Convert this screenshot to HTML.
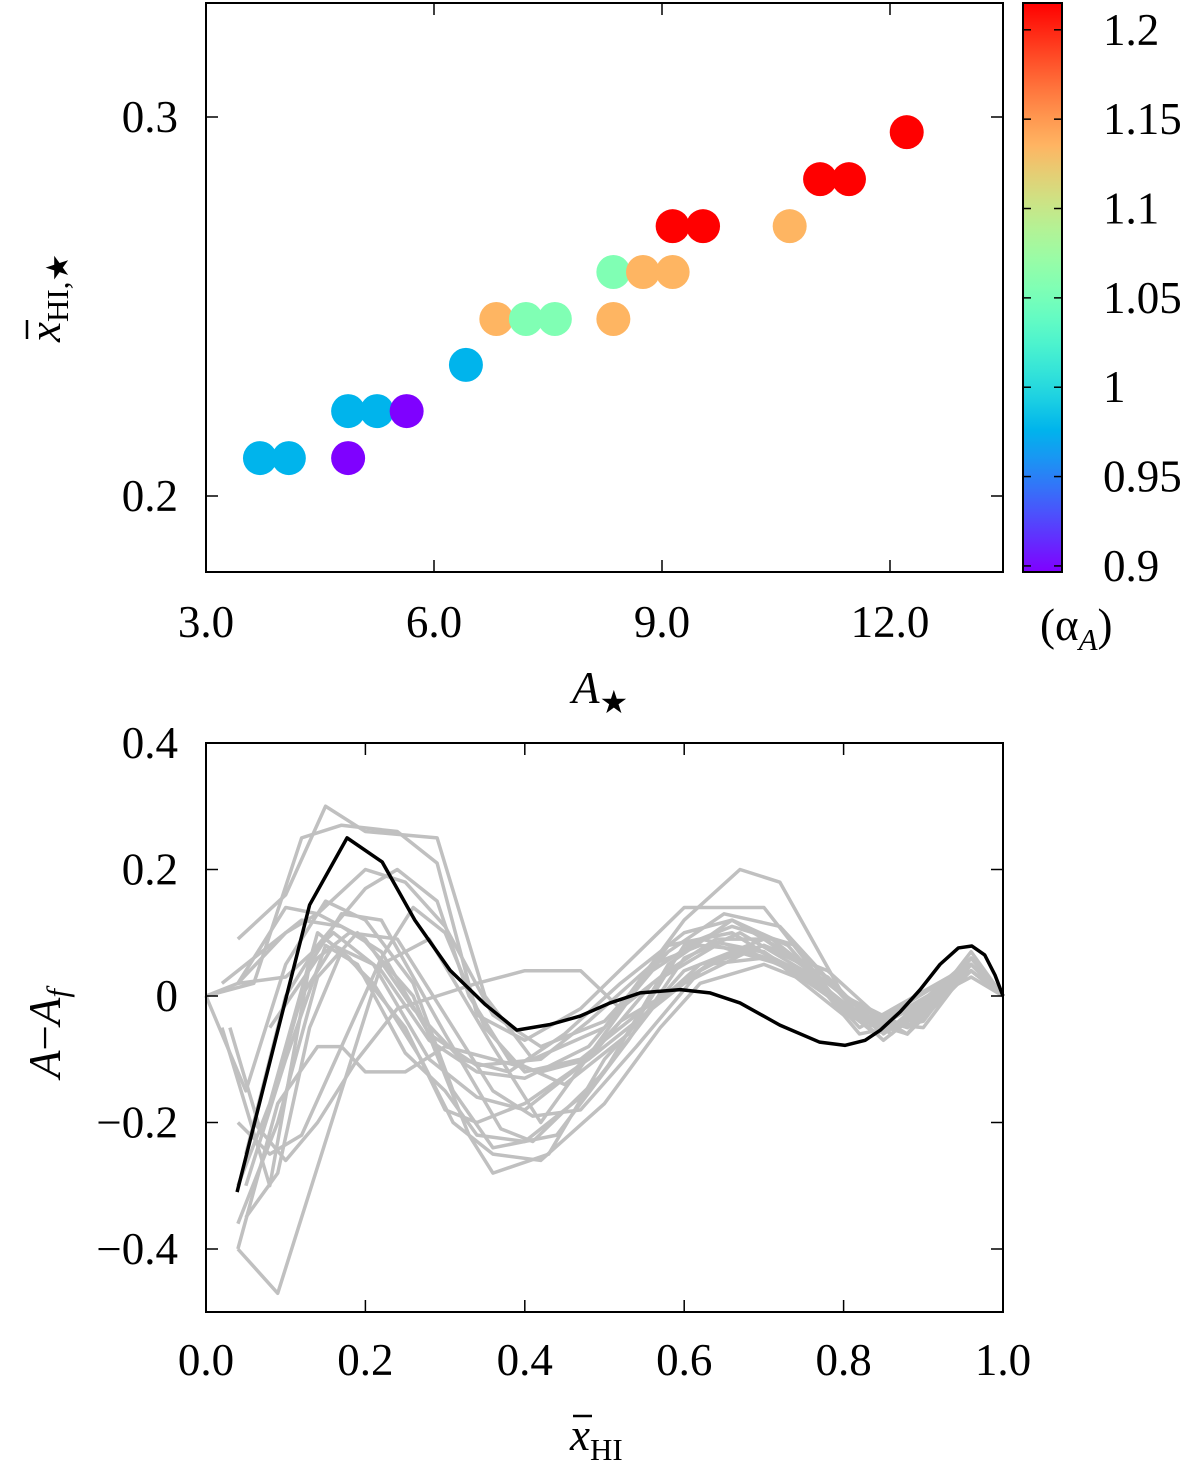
<!DOCTYPE html>
<html><head><meta charset="utf-8">
<style>
html,body{margin:0;padding:0;background:#fff;}
svg{display:block;font-family:"Liberation Serif",serif;}
text{font-size:45px;fill:#000;}
</style></head>
<body>
<svg id="fig" width="1200" height="1474" viewBox="0 0 1200 1474">
<defs><linearGradient id="cbg" x1="0" y1="1" x2="0" y2="0"></linearGradient></defs>
<g id="topPanel"></g>
<g id="botPanel"></g>
<text x="572" y="703" font-style="italic">A<tspan font-style="normal" font-size="32" dy="10">★</tspan></text>
<g transform="translate(60,342) rotate(-90)">
<text x="0" y="0"><tspan font-style="italic">x</tspan><tspan font-size="31" dy="8">HI,★</tspan></text>
<line x1="3" x2="22" y1="-33" y2="-33" stroke="#000" stroke-width="2.5"/>
</g>
<text x="1040" y="640">(α<tspan font-style="italic" font-size="31" dy="10">A</tspan><tspan dy="-10">)</tspan></text>
<g>
<text x="570" y="1450"><tspan font-style="italic">x</tspan><tspan font-size="31" dy="10">HI</tspan></text>
<line x1="573" x2="592" y1="1416" y2="1416" stroke="#000" stroke-width="2.5"/>
</g>
<text transform="translate(60,1078) rotate(-90)"><tspan font-style="italic">A</tspan>−<tspan font-style="italic">A</tspan><tspan font-style="italic" font-size="31" dy="8">f</tspan></text>
</svg>
<script>
// ---- top scatter data ----
const scatterX = [3.71,4.09,4.87, 4.87,5.25,5.64, 6.42, 6.82,7.21,7.59,8.36, 8.36,8.75,9.14, 9.14,9.54,10.68, 11.08,11.46, 12.22];
const scatterY = [0.21,0.21,0.21, 0.2224,0.2224,0.2224, 0.2346, 0.2467,0.2467,0.2467,0.2467, 0.2591,0.2591,0.2591, 0.2712,0.2712,0.2712, 0.2836,0.2836, 0.296];
const scatterAlpha = [0.976,0.976,0.897, 0.976,0.976,0.897, 0.976, 1.135,1.056,1.056,1.135, 1.056,1.135,1.135, 1.215,1.215,1.135, 1.215,1.215, 1.215];
const topXTicks = [3,6,9,12];
const topXTickLabels = ["3.0","6.0","9.0","12.0"];
const topYTicks = [0.2,0.3];
const topYTickLabels = ["0.2","0.3"];
const cbTicks = [0.9,0.95,1.0,1.05,1.1,1.15,1.2];
const cbTickLabels = ["0.9","0.95","1","1.05","1.1","1.15","1.2"];
const cbMin = 0.8966, cbMax = 1.215;

// ---- bottom residual data ----
const blackX = [0.039,0.087,0.13,0.177,0.221,0.262,0.306,0.35,0.39,0.432,0.469,0.507,0.545,0.595,0.632,0.67,0.72,0.77,0.802,0.827,0.846,0.871,0.896,0.921,0.944,0.961,0.977,0.99,1.0];
const blackY = [-0.31,-0.07,0.144,0.25,0.212,0.12,0.041,-0.013,-0.054,-0.045,-0.032,-0.011,0.005,0.01,0.005,-0.011,-0.046,-0.073,-0.078,-0.07,-0.054,-0.025,0.01,0.05,0.076,0.079,0.065,0.033,0];
const grayLines = [
 [[0.04,0.09],[0.1,0.16],[0.15,0.3],[0.2,0.26],[0.29,0.25],[0.35,0.0],[0.41,-0.1],[0.5,-0.05],[0.6,0.12],[0.67,0.2],[0.72,0.18],[0.8,0.0],[0.88,-0.06],[0.96,0.06],[1,0]],
 [[0.0,0.0],[0.06,0.02],[0.12,0.25],[0.17,0.27],[0.24,0.26],[0.29,0.21],[0.34,-0.03],[0.4,-0.07],[0.47,-0.02],[0.6,0.14],[0.7,0.14],[0.8,-0.02],[0.88,-0.05],[0.96,0.05],[1,0]],
 [[0.04,-0.4],[0.09,-0.47],[0.17,-0.15],[0.22,0.05],[0.28,0.09],[0.36,-0.08],[0.42,-0.2],[0.5,-0.06],[0.58,0.08],[0.66,0.1],[0.76,0.02],[0.84,-0.06],[0.9,-0.03],[0.96,0.05],[1,0]],
 [[0.04,-0.36],[0.09,-0.2],[0.14,0.03],[0.19,0.1],[0.26,0.0],[0.33,-0.22],[0.36,-0.28],[0.43,-0.25],[0.5,-0.1],[0.6,0.04],[0.7,0.09],[0.78,0.02],[0.86,-0.05],[0.96,0.06],[1,0]],
 [[0.02,-0.05],[0.08,-0.3],[0.13,0.05],[0.17,0.13],[0.22,0.12],[0.3,-0.06],[0.37,-0.21],[0.41,-0.23],[0.5,-0.12],[0.58,0.05],[0.66,0.12],[0.74,0.06],[0.82,-0.05],[0.96,0.05],[1,0]],
 [[0.0,0.0],[0.05,-0.15],[0.1,0.05],[0.15,0.15],[0.2,0.12],[0.26,0.02],[0.31,-0.15],[0.36,-0.24],[0.44,-0.22],[0.53,-0.07],[0.6,0.06],[0.67,0.1],[0.75,0.04],[0.83,-0.05],[0.96,0.05],[1,0]],
 [[0.04,-0.3],[0.08,-0.17],[0.14,0.1],[0.18,0.06],[0.25,-0.05],[0.3,-0.18],[0.34,-0.2],[0.4,-0.17],[0.48,-0.1],[0.56,0.02],[0.64,0.08],[0.72,0.05],[0.8,-0.03],[0.88,-0.06],[0.96,0.04],[1,0]],
 [[0.04,0.02],[0.1,0.03],[0.16,0.1],[0.22,0.04],[0.28,-0.07],[0.34,-0.12],[0.4,-0.13],[0.48,-0.08],[0.56,0.04],[0.62,0.09],[0.7,0.07],[0.78,0.0],[0.86,-0.06],[0.96,0.06],[1,0]],
 [[0.04,-0.2],[0.08,-0.25],[0.12,-0.22],[0.17,-0.08],[0.22,0.06],[0.26,0.14],[0.3,0.1],[0.35,-0.05],[0.4,-0.12],[0.47,-0.1],[0.55,-0.02],[0.63,0.05],[0.7,0.08],[0.78,0.03],[0.85,-0.06],[0.96,0.04],[1,0]],
 [[0.04,0.02],[0.1,0.14],[0.14,0.13],[0.2,0.09],[0.26,-0.02],[0.32,-0.1],[0.38,-0.12],[0.45,-0.06],[0.52,0.02],[0.6,0.1],[0.66,0.12],[0.73,0.08],[0.8,-0.02],[0.88,-0.06],[0.96,0.07],[1,0]],
 [[0.05,-0.35],[0.09,-0.28],[0.13,-0.05],[0.17,0.07],[0.21,0.02],[0.27,-0.1],[0.31,-0.2],[0.36,-0.25],[0.42,-0.26],[0.5,-0.17],[0.57,-0.05],[0.62,0.02],[0.7,0.05],[0.78,0.01],[0.85,-0.07],[0.96,0.04],[1,0]],
 [[0.0,0.0],[0.04,0.02],[0.1,0.1],[0.14,0.13],[0.2,0.2],[0.25,0.18],[0.3,0.11],[0.36,-0.03],[0.42,-0.08],[0.5,-0.04],[0.58,0.07],[0.65,0.13],[0.72,0.11],[0.8,0.0],[0.88,-0.05],[0.96,0.06],[1,0]],
 [[0.03,-0.05],[0.07,-0.22],[0.12,0.0],[0.16,0.08],[0.21,0.05],[0.28,-0.1],[0.34,-0.16],[0.4,-0.18],[0.46,-0.12],[0.52,-0.04],[0.6,0.02],[0.68,0.07],[0.75,0.04],[0.82,-0.04],[0.9,-0.05],[0.96,0.05],[1,0]],
 [[0.05,-0.25],[0.1,0.0],[0.14,0.08],[0.2,0.17],[0.24,0.2],[0.29,0.15],[0.33,0.0],[0.38,-0.1],[0.45,-0.14],[0.53,-0.06],[0.6,0.08],[0.66,0.11],[0.74,0.08],[0.82,-0.03],[0.88,-0.06],[0.96,0.05],[1,0]],
 [[0.04,-0.4],[0.09,-0.17],[0.14,-0.08],[0.17,-0.08],[0.2,-0.12],[0.25,-0.12],[0.3,-0.08],[0.36,-0.1],[0.42,-0.12],[0.48,-0.1],[0.55,-0.03],[0.62,0.05],[0.7,0.08],[0.78,0.04],[0.85,-0.04],[0.96,0.04],[1,0]],
 [[0.08,-0.05],[0.14,0.06],[0.18,0.1],[0.24,0.09],[0.3,-0.03],[0.36,-0.15],[0.41,-0.19],[0.47,-0.18],[0.54,-0.08],[0.62,0.04],[0.68,0.08],[0.76,0.03],[0.82,-0.06],[0.9,-0.04],[0.96,0.06],[1,0]],
 [[0.02,0.02],[0.08,0.08],[0.12,0.12],[0.17,0.11],[0.22,0.07],[0.28,-0.06],[0.34,-0.11],[0.42,-0.1],[0.48,-0.04],[0.56,0.05],[0.62,0.08],[0.7,0.07],[0.78,0.0],[0.86,-0.05],[0.96,0.05],[1,0]],
 [[0.05,-0.3],[0.1,-0.1],[0.15,0.08],[0.19,0.05],[0.25,-0.09],[0.3,-0.15],[0.34,-0.22],[0.4,-0.23],[0.48,-0.15],[0.56,-0.02],[0.63,0.05],[0.7,0.06],[0.77,0.02],[0.84,-0.05],[0.96,0.03],[1,0]],
 [[0.06,-0.2],[0.1,-0.26],[0.14,-0.2],[0.19,-0.1],[0.24,-0.02],[0.29,0.0],[0.34,0.02],[0.4,0.04],[0.47,0.04],[0.52,-0.02],[0.58,0.04],[0.64,0.09],[0.71,0.09],[0.79,0.01],[0.86,-0.06],[0.96,0.05],[1,0]]
];
const botXTicks = [0,0.2,0.4,0.6,0.8,1.0];
const botXTickLabels = ["0.0","0.2","0.4","0.6","0.8","1.0"];
const botYTicks = [-0.4,-0.2,0,0.2,0.4];
const botYTickLabels = ["\u22120.4","\u22120.2","0","0.2","0.4"];

const NS = "http://www.w3.org/2000/svg";
function mk(tag, attrs, parent){ const e=document.createElementNS(NS,tag); for(const k in attrs) e.setAttribute(k,attrs[k]); parent.appendChild(e); return e; }

const T = {x0:206,x1:1003,y0:3,y1:572};
const txS = v => 206 + (v-3)*76;
const tyS = v => 117 + (0.3-v)*3790;
const B = {x0:206,x1:1003,y0:743,y1:1312};
const bxS = v => 206 + v*797;
const byS = v => 743 + (0.4-v)*632.5;
const cbY = v => 572 - (v-cbMin)/(cbMax-cbMin)*569;

function rainbow(v){
  let t=(v-cbMin)/(cbMax-cbMin); t=Math.max(0,Math.min(1,t));
  const r=Math.min(1,Math.abs(2*t-0.5)), g=Math.sin(Math.PI*t), b=Math.cos(Math.PI*t/2);
  return `rgb(${Math.round(r*255)},${Math.round(g*255)},${Math.round(b*255)})`;
}

const tp = document.getElementById('topPanel');
scatterX.forEach((x,i)=>{
  const c = mk('circle',{cx:txS(x),cy:tyS(scatterY[i]),r:17,fill:rainbow(scatterAlpha[i])},tp);
  
  
});
let f = mk('rect',{x:T.x0,y:T.y0,width:T.x1-T.x0,height:T.y1-T.y0,fill:'none',stroke:'#000','stroke-width':2},tp);


topXTicks.forEach((v,i)=>{
  const x=txS(v);
  if(i>0){ mk('line',{x1:x,x2:x,y1:T.y1,y2:T.y1-12,stroke:'#000','stroke-width':1.5},tp);
  mk('line',{x1:x,x2:x,y1:T.y0,y2:T.y0+12,stroke:'#000','stroke-width':1.5},tp);}
  const t=mk('text',{x:x,y:637,'text-anchor':'middle'},tp); t.textContent=topXTickLabels[i];
  
  
});
topYTicks.forEach((v,i)=>{
  const y=tyS(v);
  mk('line',{x1:T.x0,x2:T.x0+12,y1:y,y2:y,stroke:'#000','stroke-width':1.5},tp);
  mk('line',{x1:T.x1,x2:T.x1-12,y1:y,y2:y,stroke:'#000','stroke-width':1.5},tp);
  const t=mk('text',{x:178,y:y+15,'text-anchor':'end'},tp); t.textContent=topYTickLabels[i];
  
  
});
const grad=document.getElementById('cbg');
for(let k=0;k<=20;k++){ const v=cbMin+(cbMax-cbMin)*k/20; mk('stop',{offset:(k/20),'stop-color':rainbow(v)},grad); }
let cb=mk('rect',{x:1023,y:3,width:39,height:569,fill:'url(#cbg)',stroke:'#000','stroke-width':2},tp);


cbTicks.forEach((v,i)=>{
  const y=cbY(v);
  mk('line',{x1:1023,x2:1031,y1:y,y2:y,stroke:'#000','stroke-width':1.5},tp);
  mk('line',{x1:1062,x2:1054,y1:y,y2:y,stroke:'#000','stroke-width':1.5},tp);
  const t=mk('text',{x:1103,y:y+15,'text-anchor':'start'},tp); t.textContent=cbTickLabels[i];
  
  
});

const bp = document.getElementById('botPanel');
grayLines.forEach(pts=>{
  const p=mk('polyline',{points:pts.map(q=>bxS(q[0])+','+byS(q[1])).join(' '),fill:'none',stroke:'#c0c0c0','stroke-width':3.5,'stroke-linejoin':'round'},bp);
  
  
});
const bl=mk('polyline',{points:blackX.map((x,i)=>bxS(x)+','+byS(blackY[i])).join(' '),fill:'none',stroke:'#000','stroke-width':3.5,'stroke-linejoin':'round'},bp);


f = mk('rect',{x:B.x0,y:B.y0,width:B.x1-B.x0,height:B.y1-B.y0,fill:'none',stroke:'#000','stroke-width':2},bp);


botXTicks.forEach((v,i)=>{
  const x=bxS(v);
  if(i>0&&i<botXTicks.length-1){ mk('line',{x1:x,x2:x,y1:B.y1,y2:B.y1-12,stroke:'#000','stroke-width':1.5},bp);
  mk('line',{x1:x,x2:x,y1:B.y0,y2:B.y0+12,stroke:'#000','stroke-width':1.5},bp);}
  const t=mk('text',{x:x,y:1375,'text-anchor':'middle'},bp); t.textContent=botXTickLabels[i];
  
  
});
botYTicks.forEach((v,i)=>{
  const y=byS(v);
  mk('line',{x1:B.x0,x2:B.x0+12,y1:y,y2:y,stroke:'#000','stroke-width':1.5},bp);
  mk('line',{x1:B.x1,x2:B.x1-12,y1:y,y2:y,stroke:'#000','stroke-width':1.5},bp);
  const t=mk('text',{x:178,y:y+15,'text-anchor':'end'},bp); t.textContent=botYTickLabels[i];
  
  
});
</script>
</body></html>
